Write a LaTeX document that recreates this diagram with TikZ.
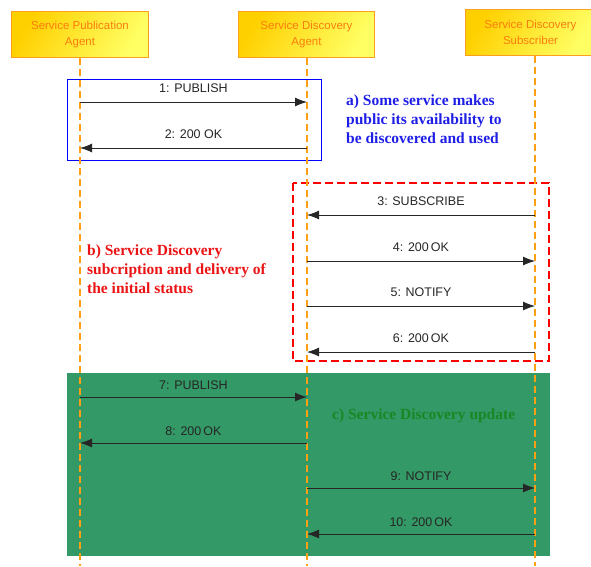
\documentclass[tikz,border=0pt]{standalone}
\usepackage{fontspec}
\setmainfont{Liberation Serif}
\setsansfont{Liberation Sans}
\usetikzlibrary{arrows.meta}
\definecolor{lifeor}{RGB}{255,160,20}
\definecolor{boxtxt}{RGB}{250,125,15}
\definecolor{boxborder}{RGB}{250,160,30}
\definecolor{gold1}{RGB}{255,208,0}
\definecolor{gold2}{RGB}{255,255,100}
\definecolor{greenfill}{RGB}{51,153,102}
\definecolor{greentxt}{RGB}{25,135,35}
\definecolor{bluetxt}{RGB}{30,30,230}
\definecolor{redtxt}{RGB}{235,20,20}
\tikzset{
  actor/.style={draw=boxborder, line width=1pt, left color=gold1, right color=gold2, shading angle=60,
    text=boxtxt, font=\sffamily\fontsize{11.5}{16}\selectfont, align=center, inner sep=0pt, anchor=north west},
  lifeline/.style={draw=lifeor, line width=2pt, dash pattern=on 7pt off 4pt},
  msg/.style={draw=black!85, line width=0.9pt, -{Latex[length=12pt,width=9pt]}},
  mlabel/.style={font=\sffamily\fontsize{12.5}{14}\selectfont, text=black!85, inner sep=0pt},
  note/.style={font=\bfseries\fontsize{15.5}{19}\selectfont, align=left, inner sep=0pt, anchor=north west}
}
\begin{document}
\begin{tikzpicture}[x=1pt,y=-1pt]
\useasboundingbox (0,0) rectangle (591,566);
% green region
\fill[greenfill] (67,373) rectangle (550,556);
% blue and red frames
\draw[blue, line width=1pt] (67,79) rectangle (321,160);
\draw[red, line width=2pt, dash pattern=on 8pt off 4pt] (293,183) rectangle (549,361);
% actors
\node[actor, minimum width=137pt, minimum height=46pt] (spa) at (11,11) {Service Publication\\Agent};
\node[actor, minimum width=136pt, minimum height=46pt] (sda) at (238,11) {Service Discovery\\Agent};
\node[actor, minimum width=130pt, minimum height=46pt] (sds) at (465,9) {Service Discovery\\Subscriber};
% lifeline ends
\coordinate (e1) at (80,566);
\coordinate (e2) at (307,566);
\coordinate (e3) at (535,566);
\draw[lifeline] (spa.south -| e1) -- (e1);
\draw[lifeline] (sda.south -| e2) -- (e2);
\draw[lifeline] (sds.south -| e3) -- (e3);
% message coordinates
\foreach \n/\y in {1/102,2/148,3/215,4/261,5/306,6/352,7/397,8/443,9/488,10/534}{
  \coordinate (a\n) at (80,\y);
  \coordinate (b\n) at (307,\y);
  \coordinate (c\n) at (535,\y);
}
\draw[msg] (a1) -- node[mlabel, above=9pt] (l1) {1: PUBLISH} (b1);
\draw[msg] (b2) -- node[mlabel, above=9pt] (l2) {2: 200 OK} (a2);
\draw[msg] (c3) -- node[mlabel, above=9pt] (l3) {3: SUBSCRIBE} (b3);
\draw[msg] (b4) -- node[mlabel, above=9pt] (l4) {4: 200\,OK} (c4);
\draw[msg] (b5) -- node[mlabel, above=9pt] (l5) {5: NOTIFY} (c5);
\draw[msg] (c6) -- node[mlabel, above=9pt] (l6) {6: 200\,OK} (b6);
\draw[msg] (a7) -- node[mlabel, above=7pt] (l7) {7: PUBLISH} (b7);
\draw[msg] (b8) -- node[mlabel, above=7pt] (l8) {8: 200\,OK} (a8);
\draw[msg] (b9) -- node[mlabel, above=7pt] (l9) {9: NOTIFY} (c9);
\draw[msg] (c10) -- node[mlabel, above=7pt] (l10) {10: 200\,OK} (b10);
% notes
\node[note, text=bluetxt] (na) at (346,95) {a) Some service makes\\public its availability to\\be discovered and used};
\node[note, text=redtxt] (nb) at (87,245) {b) Service Discovery\\subcription and delivery of\\the initial status};
\node[note, text=greentxt] (nc) at (332,409) {c) Service Discovery update};
\end{tikzpicture}
\end{document}
